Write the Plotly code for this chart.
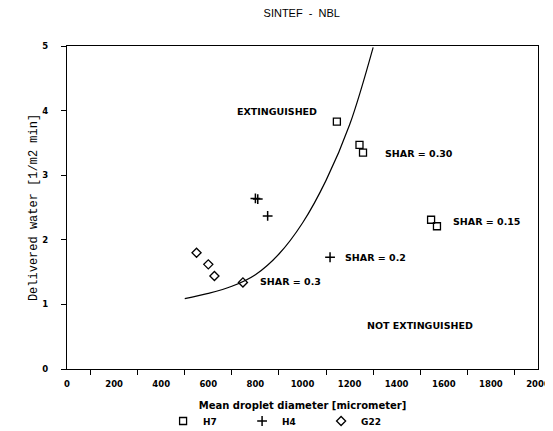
import plotly.graph_objects as go

# Data
h7_x = [1146, 1242, 1257, 1546, 1571]
h7_y = [3.83, 3.47, 3.35, 2.31, 2.21]
h4_x = [800, 810, 852, 1117]
h4_y = [2.64, 2.63, 2.37, 1.73]
g22_x = [550, 600, 626, 747]
g22_y = [1.80, 1.62, 1.44, 1.34]
curve_x = [500, 600, 700, 800, 900, 1000, 1100, 1200, 1300]
curve_y = [1.09, 1.17, 1.28, 1.46, 1.78, 2.26, 2.92, 3.78, 4.98]

labels = [
    ("EXTINGUISHED", 713, 3.98),
    ("SHAR = 0.30", 1342, 3.34),
    ("SHAR = 0.15", 1631, 2.28),
    ("SHAR = 0.2", 1172, 1.73),
    ("SHAR = 0.3", 811, 1.35),
    ("NOT EXTINGUISHED", 1265, 0.68),
]

x_ticks = list(range(0, 2001, 200))
x_minor = list(range(100, 2000, 200))
y_ticks = [0, 1, 2, 3, 4, 5]

SANS = "DejaVu Sans"

fig = go.Figure()
fig.add_trace(go.Scatter(x=curve_x, y=curve_y, mode="lines",
                         line=dict(color="black", width=1.2, shape="spline", smoothing=1.0),
                         showlegend=False, hoverinfo="skip"))
fig.add_trace(go.Scatter(x=h7_x, y=h7_y, mode="markers", name="H7",
                         marker=dict(symbol="square-open", size=7, color="black", line=dict(width=1.3))))
fig.add_trace(go.Scatter(x=h4_x, y=h4_y, mode="markers", name="H4",
                         marker=dict(symbol="cross-thin", size=7, color="black", line=dict(width=1.5, color="black"))))
fig.add_trace(go.Scatter(x=g22_x, y=g22_y, mode="markers", name="G22",
                         marker=dict(symbol="diamond-open", size=7, color="black", line=dict(width=1.3))))

for text, x, y in labels:
    fig.add_annotation(x=x, y=y, text=text, showarrow=False, xanchor="left", yanchor="middle",
                       font=dict(family=SANS, size=9.5, weight="bold", color="black"))

# the page has an 8px body margin, so the figure is sized/positioned to compensate
fig.update_layout(
    width=545, height=423,
    margin=dict(l=59, r=15, t=38, b=62, autoexpand=False),
    paper_bgcolor="white", plot_bgcolor="white",
    title=dict(text="SINTEF  -  NBL", x=0.539, xanchor="center", y=0.987, yanchor="middle",
               font=dict(family="Liberation Sans", size=11, color="black")),
    font=dict(family=SANS, color="black"),
    showlegend=True,
    legend=dict(orientation="h", x=0.204, xanchor="left", y=-0.161, yanchor="middle",
                entrywidth=34, font=dict(family=SANS, size=9, weight="bold", color="black"),
                bgcolor="rgba(0,0,0,0)", tracegroupgap=0),
)
fig.update_xaxes(range=[0, 2000], tickvals=x_ticks, ticks="outside", ticklen=5, tickcolor="rgba(0,0,0,0)",
                 showline=True, linecolor="black", linewidth=1.2, mirror=True, showgrid=False, zeroline=False,
                 automargin=False, ticklabelstandoff=2,
                 tickfont=dict(family=SANS, size=8.5, weight="bold"),
                 title=dict(text="Mean droplet diameter [micrometer]", font=dict(family=SANS, size=10, weight="bold"), standoff=13),
                 minor=dict(tickvals=x_minor, ticks="outside", ticklen=5, tickcolor="black", tickwidth=1.2))
fig.update_yaxes(range=[0, 5], tickvals=y_ticks, ticks="outside", ticklen=5, tickcolor="black", tickwidth=1.2,
                 showline=True, linecolor="black", linewidth=1.2, mirror=True, showgrid=False, zeroline=False,
                 automargin=False, ticklabelstandoff=11,
                 tickfont=dict(family=SANS, size=8.5, weight="bold"),
                 title=dict(text="Delivered water [1/m2 min]", font=dict(family="Liberation Mono", size=12), standoff=2))

fig.write_html("out.html")
